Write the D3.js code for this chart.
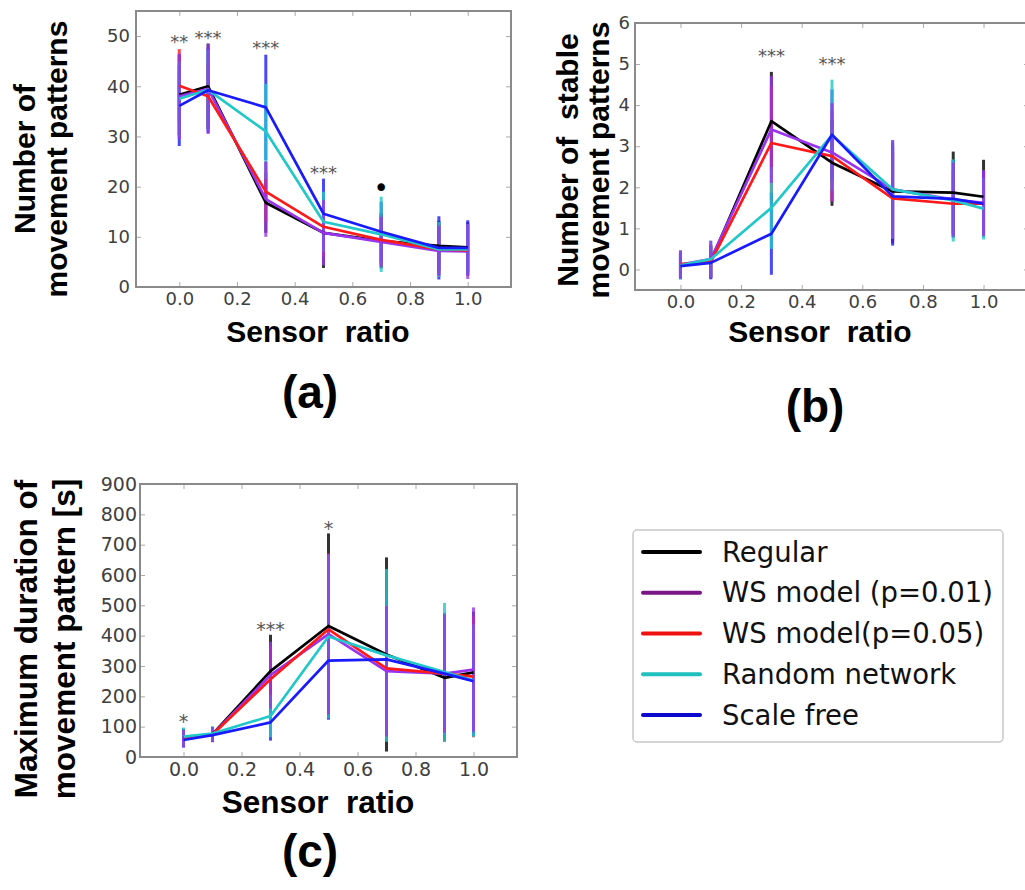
<!DOCTYPE html>
<html>
<head>
<meta charset="utf-8">
<script src="https://cdn.jsdelivr.net/npm/d3@7"></script>
<style>
  html, body { margin: 0; padding: 0; background: #fff; }
  svg { display: block; }
</style>
</head>
<body>
<svg id="chart" width="1025" height="890"></svg>
<script>
// ---------- DATA ----------
const xValues = [0, 0.1, 0.3, 0.5, 0.7, 0.9, 1.0];
const xTicks = [0, 0.2, 0.4, 0.6, 0.8, 1.0];
const seriesNames = ["Regular", "WS model (p=0.01)", "WS model(p=0.05)", "Random network", "Scale free"];

// (a) Number of movement patterns
const aRegular   = [38.3, 40.0, 16.8, 10.8, 9.2, 8.2, 7.9];
const aWs01      = [38.0, 39.5, 17.5, 10.8, 9.0, 7.2, 7.1];
const aWs05      = [40.1, 38.0, 19.0, 12.0, 9.4, 7.5, 7.3];
const aRandom    = [37.5, 39.3, 31.0, 13.0, 10.5, 7.5, 7.5];
const aScaleFree = [36.1, 39.2, 35.8, 14.6, 11.0, 7.8, 7.8];
const aRegularSd   = [8.0, 8.5, 6.0, 7.0, 5.5, 5.0, 5.0];
const aWs01Sd      = [8.5, 9.0, 7.5, 6.5, 5.0, 5.0, 5.5];
const aWs05Sd      = [7.3, 6.5, 6.0, 6.0, 5.0, 5.0, 5.0];
const aRandomSd    = [7.5, 8.0, 9.5, 6.0, 7.5, 5.5, 5.0];
const aScaleFreeSd = [8.0, 8.5, 10.5, 7.0, 6.0, 6.3, 5.5];
const aYTicks = [0, 10, 20, 30, 40, 50];
const aSigX = [0, 0.1, 0.3, 0.5, 0.7];
const aSigY = [47.6, 48.5, 46.4, 21.6, 18.0];
const aSigText = ["**", "***", "***", "***", "•"];

// (b) Number of stable movement patterns
const bRegular   = [0.10, 0.20, 3.61, 2.60, 1.90, 1.87, 1.77];
const bWs01      = [0.12, 0.25, 3.41, 2.85, 1.95, 1.70, 1.62];
const bWs05      = [0.13, 0.18, 3.08, 2.76, 1.73, 1.60, 1.60];
const bRandom    = [0.10, 0.25, 1.50, 3.27, 1.95, 1.68, 1.48];
const bScaleFree = [0.08, 0.16, 0.87, 3.28, 1.78, 1.72, 1.60];
const bRegularSd   = [0.30, 0.40, 1.20, 1.05, 1.20, 1.00, 0.90];
const bWs01Sd      = [0.35, 0.45, 1.30, 1.20, 1.20, 0.90, 0.80];
const bWs05Sd      = [0.30, 0.40, 1.40, 1.10, 1.10, 0.80, 0.80];
const bRandomSd    = [0.35, 0.45, 1.00, 1.35, 1.20, 1.00, 0.75];
const bScaleFreeSd = [0.30, 0.40, 1.00, 1.10, 1.20, 0.95, 0.80];
const bYTicks = [0, 1, 2, 3, 4, 5, 6];
const bSigX = [0.3, 0.5];
const bSigY = [5.05, 4.85];
const bSigText = ["***", "***"];

// (c) Maximum duration of movement pattern [s]
const cRegular   = [65, 75, 283, 432, 338, 261, 279];
const cWs01      = [61, 74, 270, 405, 283, 275, 288];
const cWs05      = [60, 74, 256, 421, 292, 275, 265];
const cRandom    = [67, 77, 135, 397, 335, 280, 252];
const cScaleFree = [56, 72, 114, 318, 322, 275, 250];
const cRegularSd   = [28, 22, 120, 305, 320, 210, 200];
const cWs01Sd      = [28, 25, 110, 265, 215, 195, 205];
const cWs05Sd      = [25, 25, 110, 250, 210, 200, 200];
const cRandomSd    = [30, 25, 70, 270, 285, 228, 185];
const cScaleFreeSd = [25, 22, 60, 195, 200, 200, 180];
const cYTicks = [0, 100, 200, 300, 400, 500, 600, 700, 800, 900];
const cSigX = [0, 0.3, 0.5];
const cSigY = [94, 398, 731];
const cSigText = ["*", "***", "*"];

// ---------- STYLE ----------
const lineColors = ["#000000", "#9933ee", "#ff1a1a", "#22c8c8", "#1a1aff"];
const legendColors = ["#000000", "#7a1585", "#f01010", "#20c0c0", "#0a0acc"];
const errorBarOrder = [0, 2, 4, 3, 1];
const tickFont = "DejaVu Sans, Verdana, sans-serif";
const labelFont = "Liberation Sans, Arial, Helvetica, sans-serif";

const svg = d3.select("#chart");
svg.append("rect").attr("width", 1025).attr("height", 890).attr("fill", "#fff");

function drawPanel(p) {
  const x = d3.scaleLinear().domain([-0.15, 1.15]).range([p.left, p.right]);
  const y = d3.scaleLinear().domain(p.yDomain).range([p.bottom, p.top]);
  const g = svg.append("g");

  // error bars
  errorBarOrder.forEach((si) => {
    const vals = p.series[si];
    const sd = p.sds[si];
    g.append("g").selectAll("line").data(xValues).join("line")
      .attr("x1", (d) => x(d)).attr("x2", (d) => x(d))
      .attr("y1", (d, i) => y(vals[i] - sd[i]))
      .attr("y2", (d, i) => y(vals[i] + sd[i]))
      .attr("stroke", lineColors[si])
      .attr("stroke-opacity", 0.8)
      .attr("stroke-width", 3);
  });

  // lines
  const line = d3.line().x((d) => x(d[0])).y((d) => y(d[1]));
  p.series.forEach((vals, si) => {
    g.append("path")
      .datum(xValues.map((xv, i) => [xv, vals[i]]))
      .attr("d", line)
      .attr("fill", "none")
      .attr("stroke", lineColors[si])
      .attr("stroke-width", 2.7)
      .attr("stroke-linejoin", "round");
  });

  // frame + inward ticks
  const tickStyle = (sel) => {
    sel.select(".domain").remove();
    sel.selectAll(".tick line").attr("stroke", "#aaa").attr("stroke-width", 1);
    sel.selectAll("text").attr("fill", "#404040")
      .attr("font-family", tickFont).attr("font-size", p.tickSize);
  };
  g.append("g").attr("transform", `translate(0,${p.bottom})`)
    .call(d3.axisBottom(x).tickValues(xTicks).tickFormat(d3.format(".1f"))
      .tickSizeInner(-5).tickSizeOuter(0).tickPadding(p.xPad))
    .call(tickStyle);
  g.append("g").attr("transform", `translate(0,${p.top})`)
    .call(d3.axisTop(x).tickValues(xTicks).tickFormat("")
      .tickSizeInner(-5).tickSizeOuter(0))
    .call(tickStyle);
  g.append("g").attr("transform", `translate(${p.left},0)`)
    .call(d3.axisLeft(y).tickValues(p.yTicks).tickFormat(d3.format("d"))
      .tickSizeInner(-5).tickSizeOuter(0).tickPadding(p.yPad))
    .call(tickStyle);
  g.append("g").attr("transform", `translate(${p.right},0)`)
    .call(d3.axisRight(y).tickValues(p.yTicks).tickFormat("")
      .tickSizeInner(-5).tickSizeOuter(0))
    .call(tickStyle);
  g.append("rect")
    .attr("x", p.left).attr("y", p.top)
    .attr("width", p.right - p.left).attr("height", p.bottom - p.top)
    .attr("fill", "none").attr("stroke", "#8a8a8a").attr("stroke-width", 2);

  // significance marks
  p.sigX.forEach((sx, i) => {
    const isDot = p.sigText[i] === "•";
    g.append("text")
      .attr("x", x(sx)).attr("y", y(p.sigY[i]))
      .attr("text-anchor", "middle")
      .attr("font-family", tickFont)
      .attr("font-size", isDot ? 26 : p.tickSize)
      .attr("fill", isDot ? "#000" : "#555")
      .text(p.sigText[i]);
  });

  // axis titles
  g.append("text")
    .attr("x", p.xLabelX).attr("y", p.xLabelY)
    .attr("text-anchor", "middle")
    .attr("font-family", labelFont).attr("font-weight", "bold")
    .attr("font-size", p.labelSize)
    .attr("xml:space", "preserve")
    .text("Sensor  ratio");
  p.yLabel.forEach((txt, i) => {
    g.append("text")
      .attr("transform", `translate(${p.yLabelX[i]},${p.yLabelY}) rotate(-90)`)
      .attr("text-anchor", "middle")
      .attr("font-family", labelFont).attr("font-weight", "bold")
      .attr("font-size", p.labelSize)
      .attr("xml:space", "preserve")
      .text(txt);
  });
  g.append("text")
    .attr("x", p.tagX).attr("y", p.tagY)
    .attr("text-anchor", "middle")
    .attr("font-family", labelFont).attr("font-weight", "bold")
    .attr("font-size", 46)
    .text(p.tag);
}

drawPanel({
  left: 136, right: 511, top: 11, bottom: 287, yDomain: [0, 55], yTicks: aYTicks,
  series: [aRegular, aWs01, aWs05, aRandom, aScaleFree],
  sds: [aRegularSd, aWs01Sd, aWs05Sd, aRandomSd, aScaleFreeSd],
  sigX: aSigX, sigY: aSigY, sigText: aSigText,
  tickSize: 18, xPad: 5, yPad: 6, labelSize: 30,
  xLabelX: 318, xLabelY: 342,
  yLabel: ["Number of", "movement patterns"], yLabelX: [35, 67], yLabelY: 159,
  tag: "(a)", tagX: 310, tagY: 408
});

drawPanel({
  left: 635, right: 1029, top: 23, bottom: 290, yDomain: [-0.5, 6], yTicks: bYTicks,
  series: [bRegular, bWs01, bWs05, bRandom, bScaleFree],
  sds: [bRegularSd, bWs01Sd, bWs05Sd, bRandomSd, bScaleFreeSd],
  sigX: bSigX, sigY: bSigY, sigText: bSigText,
  tickSize: 18, xPad: 5, yPad: 5, labelSize: 30,
  xLabelX: 820, xLabelY: 342,
  yLabel: ["Number of  stable", "movement patterns"], yLabelX: [578, 609], yLabelY: 160,
  tag: "(b)", tagX: 815, tagY: 422
});

drawPanel({
  left: 140, right: 517, top: 484, bottom: 757, yDomain: [0, 900], yTicks: cYTicks,
  series: [cRegular, cWs01, cWs05, cRandom, cScaleFree],
  sds: [cRegularSd, cWs01Sd, cWs05Sd, cRandomSd, cScaleFreeSd],
  sigX: cSigX, sigY: cSigY, sigText: cSigText,
  tickSize: 19, xPad: 6, yPad: 3, labelSize: 31.5,
  xLabelX: 318, xLabelY: 813,
  yLabel: ["Maximum duration of", "movement pattern [s]"], yLabelX: [37, 75], yLabelY: 639,
  tag: "(c)", tagX: 310, tagY: 867
});

// ---------- LEGEND ----------
const legend = svg.append("g");
legend.append("rect")
  .attr("x", 633).attr("y", 530).attr("width", 370).attr("height", 212)
  .attr("rx", 4).attr("fill", "#fff").attr("stroke", "#c8c8c8").attr("stroke-width", 1.5);
const rowY = d3.scalePoint().domain(seriesNames).range([552, 715]);
seriesNames.forEach((name, i) => {
  legend.append("line")
    .attr("x1", 643).attr("x2", 700)
    .attr("y1", rowY(name)).attr("y2", rowY(name))
    .attr("stroke", legendColors[i]).attr("stroke-width", 4).attr("stroke-linecap", "round");
  legend.append("text")
    .attr("x", 722).attr("y", rowY(name) + 9.5)
    .attr("font-family", tickFont).attr("font-size", 27.5).attr("fill", "#111")
    .text(name);
});
</script>
</body>
</html>
